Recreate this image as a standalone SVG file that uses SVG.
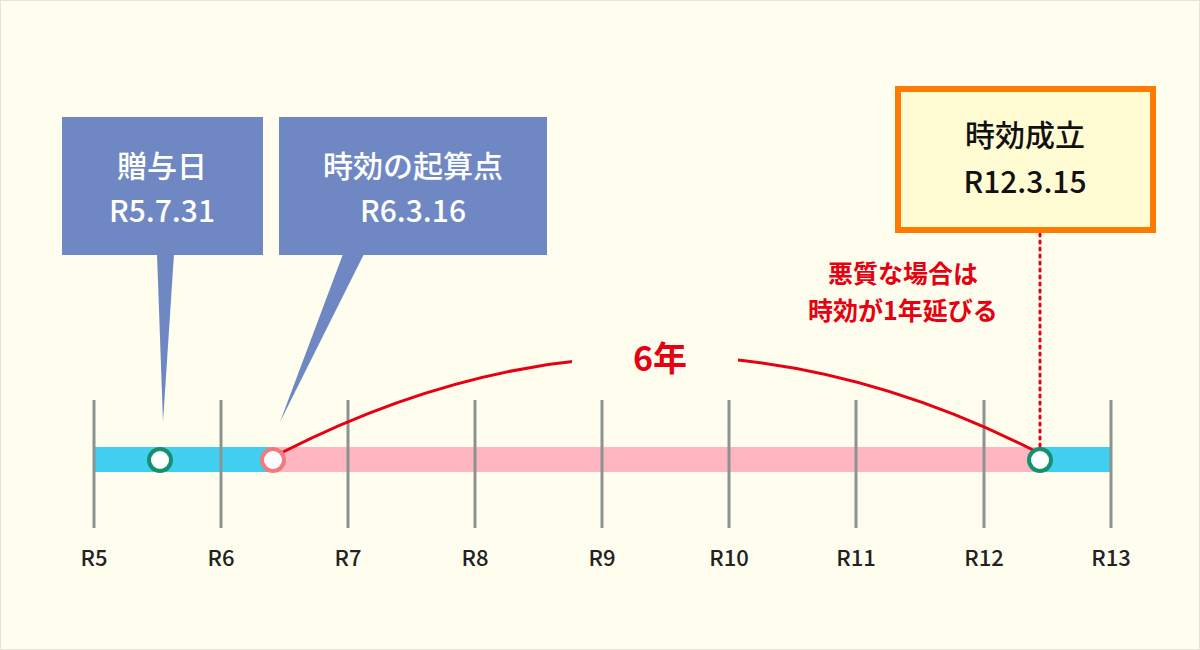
<svg xmlns="http://www.w3.org/2000/svg" width="1200" height="650" viewBox="0 0 1200 650">
<style>
text{font-family:"Noto Sans CJK JP","Noto Sans",sans-serif;text-anchor:middle}
.tick{stroke:#8a9390;stroke-width:3}
.ax{font-size:22px;fill:#222;font-weight:500}
.cb{fill:#6f88c4}
.cbt{font-size:30px;fill:#fff;font-weight:500}
.red{fill:#e60012;font-weight:700}
</style>
<rect x="0" y="0" width="1200" height="650" fill="#fefdee" stroke="#e6e4d6" stroke-width="2"/>
<g id="connectors">
<rect x="94" y="447" width="179" height="25" fill="#40cfee"/>
<rect x="273" y="447" width="767" height="25" fill="#ffb6c0"/>
<rect x="1040" y="447" width="71" height="25" fill="#40cfee"/>
<g class="tick">
<line x1="94" y1="400" x2="94" y2="528"/><line x1="221" y1="400" x2="221" y2="528"/><line x1="348" y1="400" x2="348" y2="528"/><line x1="475" y1="400" x2="475" y2="528"/><line x1="602" y1="400" x2="602" y2="528"/><line x1="729" y1="400" x2="729" y2="528"/><line x1="856" y1="400" x2="856" y2="528"/><line x1="984" y1="400" x2="984" y2="528"/><line x1="1111" y1="400" x2="1111" y2="528"/>
</g>
<path d="M283 452 Q660 260 1037 452" fill="none" stroke="#e60012" stroke-width="3"/>
<rect x="572" y="330" width="166" height="60" fill="#fefdee"/>
<line x1="1040" y1="234" x2="1040" y2="448" stroke="#e60012" stroke-width="3" stroke-dasharray="2 5" stroke-linecap="round"/>
</g>
<g id="axis-labels" class="ax">
<text x="94" y="566">R5</text><text x="221" y="566">R6</text><text x="348" y="566">R7</text><text x="475" y="566">R8</text><text x="602" y="566">R9</text><text x="729" y="566">R10</text><text x="856" y="566">R11</text><text x="984" y="566">R12</text><text x="1111" y="566">R13</text>
</g>
<g id="points">
<circle cx="160" cy="460" r="11" fill="#fff" stroke="#159070" stroke-width="4"/>
<circle cx="273" cy="460" r="11" fill="#fff" stroke="#f47a82" stroke-width="4"/>
<circle cx="1040" cy="460" r="11" fill="#fff" stroke="#159070" stroke-width="4"/>
</g>
<g id="gift">
<rect class="cb" x="62" y="117" width="201" height="138"/>
<polygon class="cb" points="157,254 174,254 163,422"/>
<text class="cbt" x="162" y="177">贈与日</text>
<text class="cbt" x="162" y="222">R5.7.31</text>
</g>
<g id="start">
<rect class="cb" x="279" y="117" width="268" height="138"/>
<polygon class="cb" points="343,254 364,254 280,422"/>
<text class="cbt" x="413" y="177">時効の起算点</text>
<text class="cbt" x="413" y="222">R6.3.16</text>
</g>
<g id="done">
<rect x="898" y="89" width="255" height="141" fill="#fffbd2" stroke="#ff7a00" stroke-width="6"/>
<text x="1025" y="146" font-size="30" fill="#111" font-weight="500">時効成立</text>
<text x="1025" y="193" font-size="30" fill="#111" font-weight="500">R12.3.15</text>
</g>
<g id="notes">
<text class="red" x="903" y="283" font-size="25">悪質な場合は</text>
<text class="red" x="903" y="320" font-size="25">時効が1年延びる</text>
<text class="red" x="660" y="371" font-size="34">6年</text>
</g>
</svg>
